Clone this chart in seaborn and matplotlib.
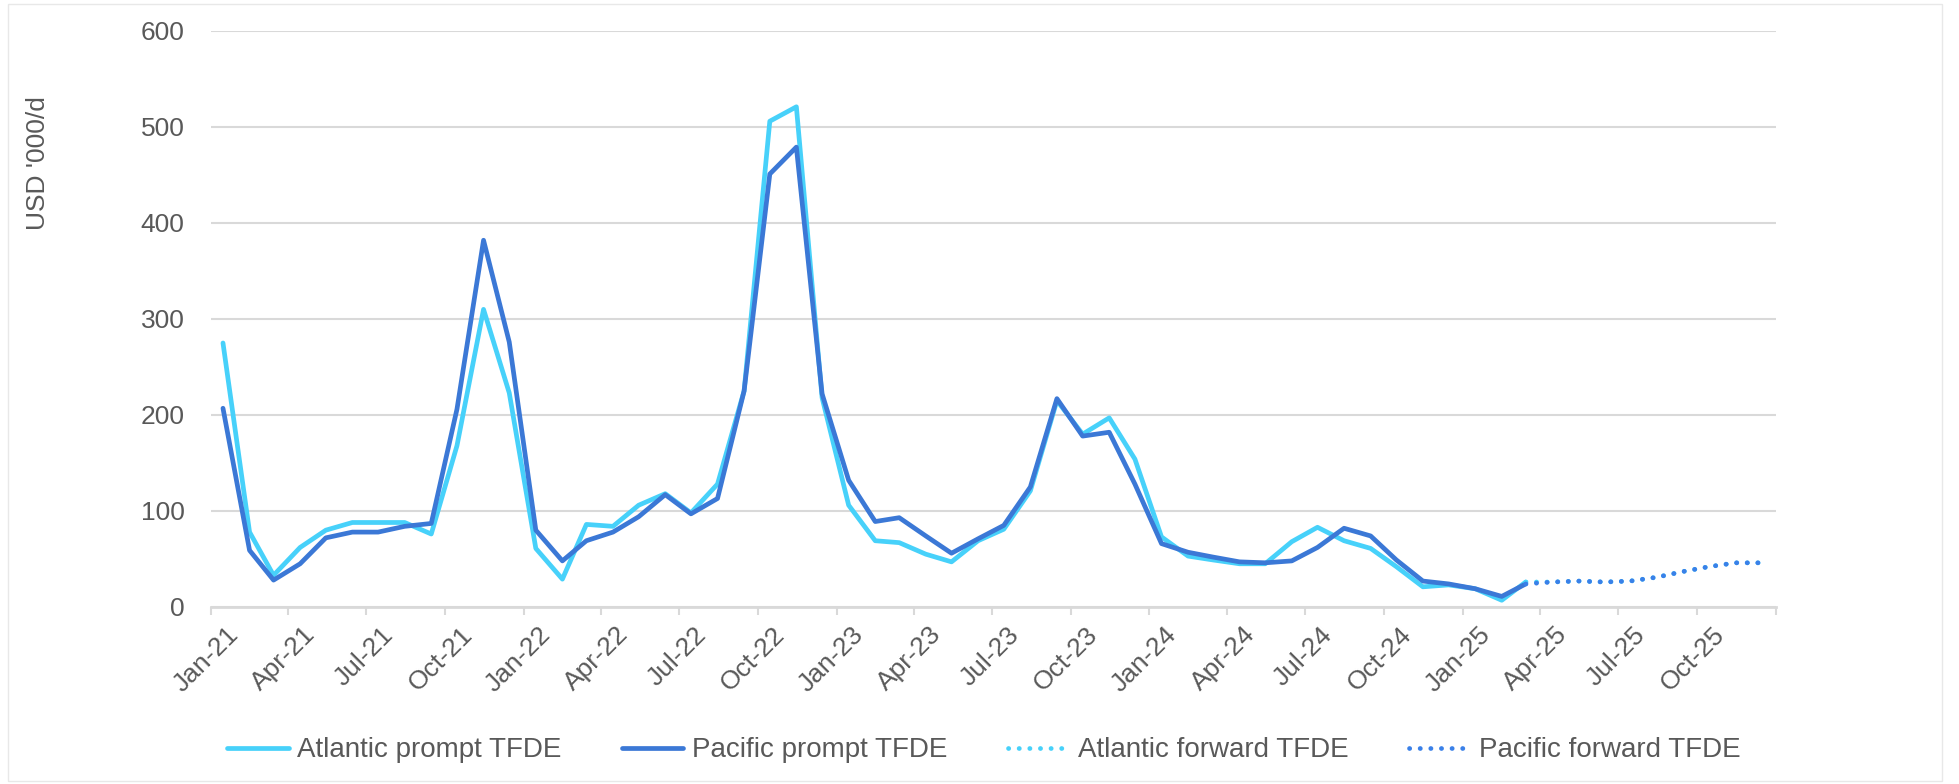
import numpy as np
import pandas as pd
import matplotlib
matplotlib.use("Agg")
import matplotlib.pyplot as plt
import matplotlib.transforms as mtransforms
from matplotlib.patches import Rectangle
import seaborn as sns

# Monthly TFDE charter rates, USD '000/d
prompt_months = pd.date_range("2021-01-01", "2025-03-01", freq="MS")
forward_months = pd.date_range("2025-03-01", "2025-12-01", freq="MS")

atlantic_prompt = [
    275, 78, 33, 62, 80, 88, 88, 88, 76, 168, 310, 223,
    61, 29, 86, 84, 106, 118, 98, 128, 225, 506, 521, 218,
    106, 69, 67, 55, 47, 69, 81, 121, 215, 180, 197, 154,
    73, 53, 49, 45, 45, 68, 83, 69, 61, 42, 21, 23,
    19, 7, 26,
]
pacific_prompt = [
    207, 59, 28, 45, 72, 78, 78, 84, 87, 206, 382, 276,
    80, 48, 69, 78, 94, 117, 97, 113, 225, 451, 479, 222,
    132, 89, 93, 74, 56, 71, 85, 125, 217, 178, 182, 128,
    66, 57, 52, 47, 46, 48, 62, 82, 74, 49, 27, 24,
    19, 11, 24,
]
atlantic_forward = [26, 26, 27, 26, 27, 31, 37, 42, 46, 46]
pacific_forward = [24, 26, 27, 26, 27, 31, 37, 42, 46, 46]

tick_labels = [
    "Jan-21", "Apr-21", "Jul-21", "Oct-21",
    "Jan-22", "Apr-22", "Jul-22", "Oct-22",
    "Jan-23", "Apr-23", "Jul-23", "Oct-23",
    "Jan-24", "Apr-24", "Jul-24", "Oct-24",
    "Jan-25", "Apr-25", "Jul-25", "Oct-25", "",
]
y_ticks = [0, 100, 200, 300, 400, 500, 600]

ATL = "#47D1FA"
PAC = "#3B78D6"
PAC_FWD = "#3A80E8"
GRID = "#D9D9D9"
TEXT = "#595959"

sns.set_theme(style="white")
plt.rcParams["font.family"] = ["Liberation Sans", "DejaVu Sans"]

mid = pd.Timedelta(days=14)
prompt_df = pd.DataFrame({
    "date": prompt_months + mid,
    "Atlantic prompt TFDE": atlantic_prompt,
    "Pacific prompt TFDE": pacific_prompt,
})
forward_df = pd.DataFrame({
    "date": forward_months + mid,
    "Atlantic forward TFDE": atlantic_forward,
    "Pacific forward TFDE": pacific_forward,
})

fig = plt.figure(figsize=(19.59, 7.84), dpi=100)
ax = fig.add_axes([0.1077, 0.2258, 0.7989, 0.7347])

lw = 3.4
dots = (0, (0.05, 2.2))
sns.lineplot(data=prompt_df, x="date", y="Atlantic prompt TFDE", ax=ax,
             color=ATL, lw=lw, label="Atlantic prompt TFDE")
sns.lineplot(data=prompt_df, x="date", y="Pacific prompt TFDE", ax=ax,
             color=PAC, lw=lw, label="Pacific prompt TFDE")
sns.lineplot(data=forward_df, x="date", y="Atlantic forward TFDE", ax=ax,
             color=ATL, lw=lw, label="Atlantic forward TFDE",
             linestyle=dots, dash_capstyle="round")
sns.lineplot(data=forward_df, x="date", y="Pacific forward TFDE", ax=ax,
             color=PAC_FWD, lw=lw, label="Pacific forward TFDE",
             linestyle=dots, dash_capstyle="round")

ax.set_xlim(pd.Timestamp("2021-01-01"), pd.Timestamp("2026-01-01"))
ax.set_ylim(0, 600)

ticks = pd.date_range("2021-01-01", "2026-01-01", freq="QS")
ax.set_xticks(ticks)
ax.set_xticklabels(tick_labels, rotation=45, ha="right", va="top",
                   rotation_mode="anchor", color=TEXT, fontsize=19)
ax.tick_params(axis="x", which="major", length=6, width=1.5, color=GRID,
               direction="out", pad=5, bottom=True)
shift = mtransforms.ScaledTranslation(15 / 100, 0, fig.dpi_scale_trans)
for lab in ax.get_xticklabels():
    lab.set_transform(lab.get_transform() + shift)

ax.set_yticks(y_ticks)
ax.set_yticklabels([str(v) for v in y_ticks], color=TEXT, fontsize=19)
ax.tick_params(axis="y", length=0, pad=19)
ax.yaxis.grid(True, color=GRID, lw=1.5)
ax.set_axisbelow(True)

for side in ("left", "right", "top"):
    ax.spines[side].set_visible(False)
ax.spines["bottom"].set_color(GRID)
ax.spines["bottom"].set_linewidth(2)

ax.set_xlabel("")
ax.set_ylabel("USD '000/d", color=TEXT, fontsize=19)
ax.yaxis.set_label_coords(-0.103, 0.77)

handles, labels = ax.get_legend_handles_labels()
ax.legend(handles, labels, loc="center", bbox_to_anchor=(0.5023, 0.043),
          bbox_transform=fig.transFigure, ncol=4, frameon=False,
          fontsize=20, handlelength=2.2, handletextpad=0.3,
          columnspacing=2.2, labelcolor=TEXT)

fig.patches.append(Rectangle((8 / 1959, 3 / 784), 1934 / 1959, 777 / 784,
                             transform=fig.transFigure, fill=False,
                             edgecolor="#E8E8E8", lw=1))

fig.savefig("out.png", dpi=100, facecolor="white")
